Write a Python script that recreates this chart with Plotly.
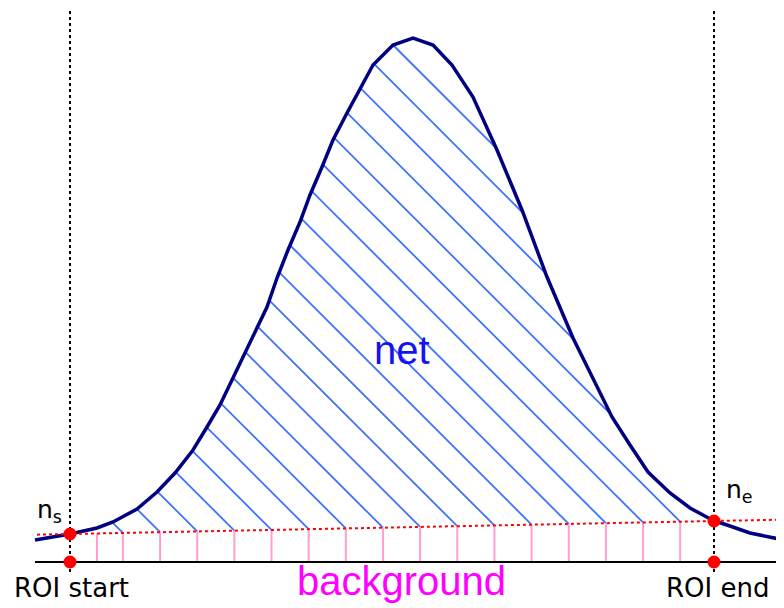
import numpy as np
import plotly.graph_objects as go

# peak shape (channel vs counts)
channel = [35, 70, 97, 113, 137, 157, 175, 193, 207, 220, 232, 245, 255, 267, 277, 288, 300, 310, 322, 333,
           347, 360, 373, 393, 413, 433, 452, 473, 497, 522, 547, 573, 600, 612, 630, 648, 670, 690, 714, 727,
           750, 784]
counts = [68, 74, 80, 86, 99, 116, 135, 158, 181, 203, 228, 255, 276, 301, 330, 358, 386, 413, 441, 468,
          495, 519, 543, 563, 570, 563, 543, 511, 458, 398, 331, 270, 215, 191, 163, 136, 115, 100, 87, 83,
          75, 68]

# region of interest and background end points
roi_start, roi_end = 70, 714
n_s, n_e = 74, 87
axis_level = 46
axis_x = [35, 784]
extra_bg_ticks = [97]

HATCH_START = 198      # x + y of the first hatch line
HATCH_STEP = 37.9
HATCH_COUNT = 21


def background(x):
    return n_s + (n_e - n_s) * (np.asarray(x, dtype=float) - roi_start) / (roi_end - roi_start)


# hatch lines for the net area, clipped between peak and background line
xs = np.linspace(roi_start, roi_end, 40001)
cy = np.interp(xs, channel, counts)
by = background(xs)
hx, hy, px, py = [], [], [], []
for k in range(HATCH_COUNT):
    d = HATCH_START + k * HATCH_STEP
    ly = d - xs
    idx = np.flatnonzero((ly <= cy) & (ly >= by))
    if idx.size == 0:
        continue
    breaks = np.flatnonzero(np.diff(idx) > 1)
    i0 = idx[0]
    i1 = idx[breaks[0]] if breaks.size else idx[-1]
    hx += [xs[i0], xs[i1], None]
    hy += [ly[i0], ly[i1], None]
    if abs(ly[i1] - by[i1]) < 0.5:
        px += [xs[i1], xs[i1], None]
        py += [by[i1], axis_level, None]

for x in extra_bg_ticks:
    px += [x, x, None]
    py += [float(background(x)), axis_level, None]

fig = go.Figure()

fig.add_trace(go.Scatter(x=hx, y=hy, mode="lines", line=dict(color="#3f72ff", width=1.8), hoverinfo="skip"))
fig.add_trace(go.Scatter(x=px, y=py, mode="lines", line=dict(color="#ff9ed0", width=2), hoverinfo="skip"))

# ROI markers (dotted verticals)
for x in (roi_start, roi_end):
    fig.add_trace(go.Scatter(x=[x, x], y=[36, 603], mode="lines",
                             line=dict(color="black", width=2, dash="dot"), hoverinfo="skip"))

# axis line
fig.add_trace(go.Scatter(x=axis_x, y=[axis_level, axis_level], mode="lines",
                         line=dict(color="black", width=2), hoverinfo="skip"))

# peak
fig.add_trace(go.Scatter(x=channel, y=counts, mode="lines", line=dict(color="#000080", width=3.5)))

# background line
bx = [37, 784]
fig.add_trace(go.Scatter(x=bx, y=list(background(bx)), mode="lines",
                         line=dict(color="#ff0000", width=2, dash="dot"), hoverinfo="skip"))

fig.add_trace(go.Scatter(
    x=[roi_start, roi_end, roi_start, roi_end],
    y=[n_s, n_e, axis_level, axis_level],
    mode="markers",
    marker=dict(color="#ff0000", size=13),
))

FONT = "Liberation Sans, Arial, sans-serif"
LABEL_FONT = "DejaVu Sans, sans-serif"
fig.add_annotation(x=402, y=258, text="net", showarrow=False,
                   font=dict(family=FONT, size=40, color="#1414f0"))
fig.add_annotation(x=401, y=27, text="background", showarrow=False,
                   font=dict(family=FONT, size=40, color="#ff00ff"))
fig.add_annotation(x=71, y=20, text="ROI start", showarrow=False,
                   font=dict(family=LABEL_FONT, size=26, color="black"))
fig.add_annotation(x=717, y=20, text="ROI end", showarrow=False,
                   font=dict(family=LABEL_FONT, size=26, color="black"))
fig.add_annotation(x=49, y=97, text="n<sub>s</sub>", showarrow=False,
                   font=dict(family=LABEL_FONT, size=25, color="black"))
fig.add_annotation(x=739, y=117, text="n<sub>e</sub>", showarrow=False,
                   font=dict(family=LABEL_FONT, size=25, color="black"))

# the page body adds an 8px offset, so the ranges are shifted to keep 1 unit = 1 px on screen
fig.update_layout(
    width=784,
    height=608,
    margin=dict(l=0, r=0, t=0, b=0),
    showlegend=False,
    plot_bgcolor="white",
    paper_bgcolor="white",
    xaxis=dict(range=[8, 792], visible=False, fixedrange=True),
    yaxis=dict(range=[-8, 600], visible=False, fixedrange=True),
)

fig.write_html("out.html")
